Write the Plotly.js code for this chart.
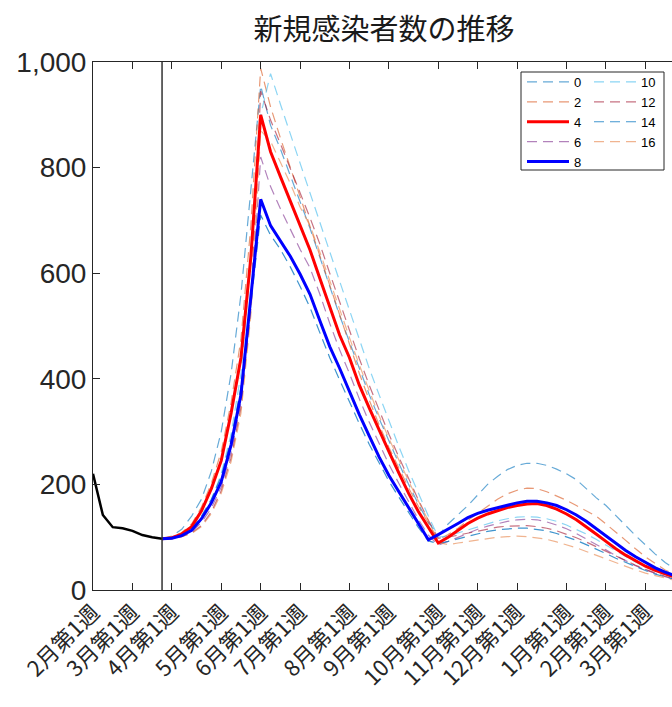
<!DOCTYPE html>
<html>
<head>
<meta charset="utf-8">
<script src="https://cdn.plot.ly/plotly-3.0.1.min.js"></script>
<style>
  html, body { margin: 0; padding: 0; overflow: hidden; background: #fff; }
  #chart { width: 715px; height: 707px; }
</style>
</head>
<body>
<div id="chart"></div>
<script>
// ---- data ----
const tickWeeks  = [0, 4, 8, 13, 17, 21, 26, 30, 35, 39, 43, 48, 52, 56];
const tickLabels = ['2月第1週','3月第1週','4月第1週','5月第1週','6月第1週','7月第1週','8月第1週',
                    '9月第1週','10月第1週','11月第1週','12月第1週','1月第1週','2月第1週','3月第1週'];

const actualWeeks = [0, 1, 2, 3, 4, 5, 6, 7];
const actual      = [220, 142, 119, 117, 112, 104, 100, 97];

const weeks = [7,8,9,10,11,12,13,14,15,16,17,18,19,20,21,22,23,24,25,26,27,28,29,30,31,32,33,
               34,35,36,37,38,39,40,41,42,43,44,45,46,47,48,49,50,51,52,53,54,55,56,57,58,59];

const s0  = [97,102,115,140,172,225,300,410,560,760,955,
             880,835,785,735,685,630,575,520,470,418,370,325,282,240,200,162,128,103,
             125,142,160,180,200,215,228,236,240,240,236,229,220,209,192,175,160,140,122,103,85,68,52,40];
const s2  = [97,100,109,125,157,202,262,355,475,690,988,
             915,856,800,745,690,632,575,518,462,410,360,313,270,230,193,158,126,95,
             105,117,132,145,158,172,182,189,193,192,186,178,170,160,150,140,125,110,94,78,63,50,38,29];
const s4  = [97,99,106,120,150,192,245,335,440,630,900,
             830,783,737,690,644,590,537,483,440,388,345,302,262,222,183,148,118,89,
             100,113,126,136,144,150,156,160,163,164,160,153,144,133,120,106,92,78,66,55,45,37,30,24];
const s6  = [97,98,102,110,128,155,195,260,355,530,820,
             764,722,682,645,610,560,505,455,410,362,318,277,238,202,166,133,104,85,
             92,100,108,115,121,126,130,133,134,133,129,123,116,107,97,87,76,65,55,46,38,31,25,20];
const s8  = [97,98,103,113,135,165,205,275,370,550,740,
             690,662,632,598,560,510,461,420,375,332,292,252,217,186,157,126,95,
             105,115,126,137,145,151,156,161,165,168,168,165,160,152,142,130,116,102,88,75,63,52,42,34,27];
const s10 = [97,99,104,114,135,170,220,295,410,620,900,978,
             920,862,808,752,695,640,585,530,475,420,370,320,272,226,182,140,100,
             102,108,114,120,126,131,135,138,139,138,135,130,123,115,106,96,85,74,63,53,44,36,29,23];
const s12 = [97,98,101,108,122,148,188,250,345,540,945,
             890,845,800,752,705,655,600,545,490,438,388,340,295,252,210,170,132,98,
             100,104,108,112,116,119,121,122,122,120,117,112,106,99,91,82,73,64,55,47,39,32,26,21];
const s14 = [97,98,104,116,140,172,215,285,385,540,710,
             672,645,612,575,535,487,440,398,355,315,276,240,206,176,147,118,93,88,
             92,97,102,107,111,114,116,117,117,115,112,107,101,94,86,78,69,60,52,44,37,30,25,20];
const s16 = [97,98,101,107,120,145,183,243,335,520,870,
             850,810,770,725,690,640,585,530,478,426,376,330,287,246,206,168,131,90,
             86,89,92,95,98,100,101,102,101,99,96,91,86,80,73,66,58,51,44,38,32,27,22,18];

const seriesNames = ['0','2','4','6','8','10','12','14','16'];

// ---- styles ----
const DASH = '10px,6px';
const styles = {
  '0':  {color:'rgba(0,114,189,0.6)',  width:1.2, dash:DASH, legend:'legend',  rank:1},
  '2':  {color:'rgba(217,83,25,0.6)',  width:1.2, dash:DASH, legend:'legend',  rank:2},
  '4':  {color:'#ff0000',              width:3,   dash:'solid', legend:'legend', rank:3},
  '6':  {color:'rgba(126,47,142,0.6)', width:1.2, dash:DASH, legend:'legend',  rank:4},
  '8':  {color:'#0000ff',              width:3,   dash:'solid', legend:'legend', rank:5},
  '10': {color:'rgba(77,190,238,0.65)',width:1.2, dash:DASH, legend:'legend2', rank:1},
  '12': {color:'rgba(162,20,47,0.6)',  width:1.2, dash:DASH, legend:'legend2', rank:2},
  '14': {color:'rgba(0,114,189,0.75)', width:1.2, dash:DASH, legend:'legend2', rank:3},
  '16': {color:'rgba(230,130,70,0.6)', width:1.2, dash:DASH, legend:'legend2', rank:4}
};
const seriesData = {'0':s0,'2':s2,'4':s4,'6':s6,'8':s8,'10':s10,'12':s12,'14':s14,'16':s16};

const drawOrder = ['0','2','6','10','12','14','16','4','8'];
const traces = drawOrder.map(name => {
  const st = styles[name];
  return {
    type:'scatter', mode:'lines', name:name,
    x: weeks, y: seriesData[name],
    line:{color:st.color, width:st.width, dash:st.dash},
    legend: st.legend, legendrank: st.rank,
    hoverinfo:'skip'
  };
});
traces.push({
  type:'scatter', mode:'lines', name:'実績',
  x: actualWeeks, y: actual,
  line:{color:'#000000', width:2.5},
  showlegend:false, hoverinfo:'skip'
});

const axisColor = '#262626';
const legendTop = (590-67)/528;
const layout = {
  width: 715, height: 707,
  margin: {l:93, r:40, t:62, b:117, pad:0},
  paper_bgcolor:'#ffffff', plot_bgcolor:'#ffffff',
  title: {
    text:'新規感染者数の推移',
    font:{family:'Noto Sans CJK JP', size:29, color:'#1a1a1a'},
    x:0.5, xref:'paper', xanchor:'center',
    y: 1 - 30/707, yref:'container', yanchor:'middle'
  },
  xaxis: {
    range:[0,59], tickmode:'array', tickvals: tickWeeks, ticktext: tickLabels,
    tickangle:-45, ticks:'inside', ticklen:7, tickcolor:axisColor, tickwidth:1,
    showline:true, linecolor:axisColor, linewidth:1, mirror:'ticks',
    showgrid:false, zeroline:false,
    tickfont:{family:'Noto Sans CJK JP', size:22, color:axisColor}
  },
  yaxis: {
    range:[0,1000], tickmode:'array', tickvals:[0,200,400,600,800,1000],
    tickformat:',d', ticks:'inside', ticklen:7, tickcolor:axisColor, tickwidth:1,
    showline:true, linecolor:axisColor, linewidth:1, mirror:false,
    showgrid:false, zeroline:false, ticklabelstandoff:0,
    tickfont:{family:'Liberation Sans, Arial, sans-serif', size:28, color:axisColor}
  },
  showlegend:true,
  legend: {
    x:(522-93)/582, xanchor:'left', y:legendTop, yanchor:'top',
    bgcolor:'rgba(0,0,0,0)', borderwidth:0, itemwidth:42, tracegroupgap:0,
    font:{family:'Liberation Sans, Arial, sans-serif', size:13, color:'#000'}
  },
  legend2: {
    x:(589-93)/582, xanchor:'left', y:legendTop, yanchor:'top',
    bgcolor:'rgba(0,0,0,0)', borderwidth:0, itemwidth:42, tracegroupgap:0,
    font:{family:'Liberation Sans, Arial, sans-serif', size:13, color:'#000'}
  },
  shapes: [
    {type:'line', xref:'x', yref:'paper', x0:7, x1:7, y0:0, y1:1,
     line:{color:'#333333', width:1.5}, layer:'above'},
    {type:'rect', xref:'paper', yref:'paper',
     x0:(521-93)/582, x1:(664-93)/582, y0:(590-170)/528, y1:(590-72)/528,
     line:{color:axisColor, width:1}, fillcolor:'rgba(0,0,0,0)', layer:'above'}
  ]
};

Plotly.newPlot('chart', traces, layout, {displayModeBar:false, staticPlot:true});
</script>
</body>
</html>
